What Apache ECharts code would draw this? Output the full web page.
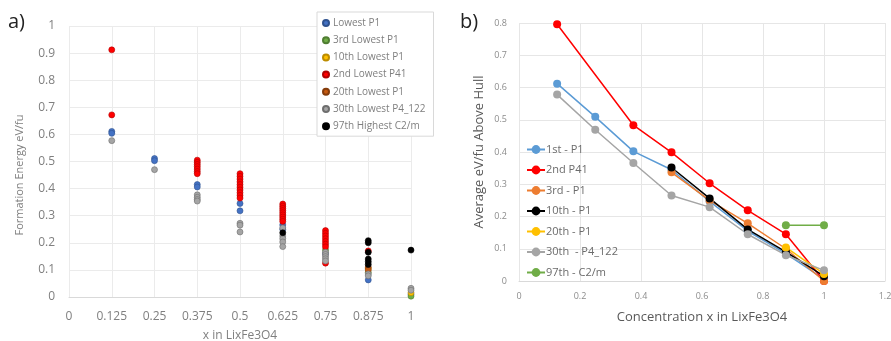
<!DOCTYPE html>
<html><head><meta charset="utf-8">
<script src="https://cdn.jsdelivr.net/npm/echarts@6/dist/echarts.min.js"></script>
<style>html,body{margin:0;padding:0;background:#fff}#c{width:891px;height:341px}</style>
</head><body><div id="c"></div>
<script>
// ---- Panel a data: [x, formation energy eV/fu] ----
const lowestP1 = [[0.125,0.611],[0.125,0.604],[0.25,0.511],[0.25,0.503],[0.375,0.415],[0.375,0.406],[0.5,0.345],[0.5,0.318],[0.625,0.266],[0.625,0.25],[0.75,0.16],[0.875,0.063],[1,0.01]];
const thirdLowestP1 = [[0.75,0.173],[0.875,0.09],[1,0.003]];
const tenthLowestP1 = [[0.875,0.105],[1,0.016]];
const secondLowestP41 = [[0.125,0.912],[0.125,0.672],
  [0.375,0.505],[0.375,0.497],[0.375,0.489],[0.375,0.481],[0.375,0.472],[0.375,0.463],[0.375,0.455],
  [0.5,0.455],[0.5,0.445],[0.5,0.435],[0.5,0.425],[0.5,0.415],[0.5,0.405],[0.5,0.395],[0.5,0.385],[0.5,0.375],[0.5,0.365],
  [0.625,0.343],[0.625,0.335],[0.625,0.327],[0.625,0.319],[0.625,0.311],[0.625,0.303],[0.625,0.295],[0.625,0.287],[0.625,0.279],
  [0.75,0.245],[0.75,0.235],[0.75,0.225],[0.75,0.215],[0.75,0.205],[0.75,0.195],[0.75,0.185],[0.75,0.125],
  [0.875,0.17]];
const twentiethLowestP1 = [[0.875,0.11],[0.875,0.1]];
const thirtiethLowestP4_122 = [[0.125,0.577],[0.25,0.47],
  [0.375,0.377],[0.375,0.368],[0.375,0.36],[0.375,0.354],
  [0.5,0.272],[0.5,0.265],[0.5,0.24],
  [0.625,0.255],[0.625,0.225],[0.625,0.215],[0.625,0.203],[0.625,0.186],
  [0.75,0.165],[0.75,0.157],[0.75,0.149],[0.75,0.141],[0.75,0.133],
  [0.875,0.085],[0.875,0.078],[1,0.032],[1,0.025]];
const ninetySeventhHighestC2m = [[0.625,0.237],[0.875,0.208],[0.875,0.2],[0.875,0.165],[0.875,0.14],[0.875,0.13],[0.875,0.12],[1,0.173]];

// ---- Panel b data ----
const concX = [0.125, 0.25, 0.375, 0.5, 0.625, 0.75, 0.875, 1];
const first_P1   = [0.612, 0.509, 0.402, 0.345, 0.247, 0.155, 0.085, 0.006];
const second_P41 = [0.796, null, 0.483, 0.399, 0.303, 0.219, 0.145, 0.0];
const third_P1   = [null, null, null, 0.337, 0.25, 0.179, 0.1, 0.0];
const tenth_P1   = [null, null, null, 0.352, 0.256, 0.16, 0.09, 0.015];
const twentieth_P1 = [null, null, null, null, null, null, 0.104, 0.022];
const thirtieth_P4_122 = [0.578, 0.469, 0.366, 0.265, 0.229, 0.145, 0.08, 0.033];
const ninetySeventh_C2m = [null, null, null, null, null, null, 0.173, 0.173];

const aSeriesDefs = [
  ['Lowest P1', lowestP1, '#4472C4', '#2F528F'],
  ['3rd Lowest P1', thirdLowestP1, '#70AD47', '#507E32'],
  ['10th Lowest P1', tenthLowestP1, '#FFC000', '#BC8C00'],
  ['2nd Lowest P41', secondLowestP41, '#FF0000', '#B00000'],
  ['20th Lowest P1', twentiethLowestP1, '#C55A11', '#843C0C'],
  ['30th Lowest P4_122', thirtiethLowestP4_122, '#A5A5A5', '#6E6E6E'],
  ['97th Highest C2/m', ninetySeventhHighestC2m, '#000000', '#000000']
];
const bSeriesDefs = [
  ['1st - P1', first_P1, '#5B9BD5'],
  ['2nd P41', second_P41, '#FF0000'],
  ['3rd - P1', third_P1, '#ED7D31'],
  ['10th - P1', tenth_P1, '#000000'],
  ['20th - P1', twentieth_P1, '#FFC000'],
  ['30th  - P4_122', thirtieth_P4_122, '#A5A5A5'],
  ['97th - C2/m', ninetySeventh_C2m, '#70AD47']
];

const chart = echarts.init(document.getElementById('c'));
const txt = '#7F7F7F';
const font = 'Open Sans';
const series = [];
aSeriesDefs.forEach(([name, d, c, bc]) => series.push({
  name, type: 'scatter', xAxisIndex: 0, yAxisIndex: 0, data: d, symbolSize: 6,
  itemStyle: { color: c, borderColor: bc, borderWidth: 0.6, opacity: 1 }
}));
bSeriesDefs.forEach(([name, d, c]) => series.push({
  name, type: 'line', xAxisIndex: 1, yAxisIndex: 1, data: concX.map((x, i) => [x, d[i]]),
  connectNulls: true, symbol: 'circle', symbolSize: 8, showSymbol: true,
  lineStyle: { color: c, width: 1.5 }, itemStyle: { color: c, borderWidth: 0 }
}));

chart.setOption({
  animation: false,
  textStyle: { fontFamily: font },
  graphic: [
    { type: 'text', left: 8, top: 12, style: { text: 'a)', font: '20px "Open Sans"', fill: '#222' } },
    { type: 'text', left: 460, top: 12, style: { text: 'b)', font: '20px "Open Sans"', fill: '#222' } },
    { type: 'text', x: 20, y: 175, rotation: Math.PI / 2,
      style: { text: 'Formation Energy eV/fu', font: '11px "Open Sans"', fill: '#7F7F7F', align: 'center', verticalAlign: 'middle' } }
  ],
  legend: [
    { data: aSeriesDefs.map(s => s[0]), orient: 'vertical', left: 317, top: 12, width: 109,
      padding: [6, 8, 5, 5], itemGap: 7.2, itemWidth: 6, itemHeight: 6, icon: 'circle',
      borderColor: '#D9D9D9', borderWidth: 1, backgroundColor: '#fff',
      textStyle: { color: '#7F7F7F', fontSize: 10, fontFamily: font, padding: [0, 0, 0, -1] } },
    { data: bSeriesDefs.map(s => s[0]), orient: 'vertical', left: 521, top: 139,
      itemGap: 9.5, itemWidth: 18, itemHeight: 11,
      textStyle: { color: '#6B6B6B', fontSize: 11, fontFamily: font, padding: [0, 0, 0, -4] } }
  ],
  grid: [
    { left: 69, width: 342, top: 26, height: 271, outerBoundsMode: 'none', containLabel: false },
    { left: 519, width: 366, top: 23, height: 258, outerBoundsMode: 'none', containLabel: false }
  ],
  xAxis: [
    { type: 'value', gridIndex: 0, min: 0, max: 1, interval: 0.125,
      name: 'x in LixFe3O4', nameLocation: 'middle', nameGap: 33,
      nameTextStyle: { color: '#7F7F7F', fontSize: 12 },
      axisLine: { lineStyle: { color: '#D9D9D9' } }, axisTick: { show: false },
      axisLabel: { color: txt, fontSize: 12, margin: 14, formatter: v => String(+v.toFixed(3)) },
      splitLine: { show: true, lineStyle: { color: '#EBEBEB' } } },
    { type: 'value', gridIndex: 1, min: 0, max: 1.2, interval: 0.2,
      name: 'Concentration x in LixFe3O4', nameLocation: 'middle', nameGap: 30,
      nameTextStyle: { color: '#595959', fontSize: 13 },
      axisLine: { lineStyle: { color: '#D9D9D9' } }, axisTick: { show: false },
      axisLabel: { color: '#8C8C8C', fontSize: 9, margin: 11, formatter: v => String(+v.toFixed(1)) },
      splitLine: { show: true, lineStyle: { color: '#E6E6E6' } } }
  ],
  yAxis: [
    { type: 'value', gridIndex: 0, min: 0, max: 1, interval: 0.1,
      axisLine: { show: false }, axisTick: { show: false },
      axisLabel: { color: txt, fontSize: 12, margin: 14, formatter: v => String(+v.toFixed(1)) },
      splitLine: { lineStyle: { color: '#EBEBEB' } } },
    { type: 'value', gridIndex: 1, min: 0, max: 0.8, interval: 0.1,
      name: 'Average eV/fu Above Hull', nameLocation: 'middle', nameGap: 33,
      nameTextStyle: { color: '#595959', fontSize: 13 },
      axisLine: { show: false }, axisTick: { show: false },
      axisLabel: { color: '#8C8C8C', fontSize: 9, margin: 12, formatter: v => String(+v.toFixed(1)) },
      splitLine: { lineStyle: { color: '#E6E6E6' } } }
  ],
  series
});
</script>
</body></html>
